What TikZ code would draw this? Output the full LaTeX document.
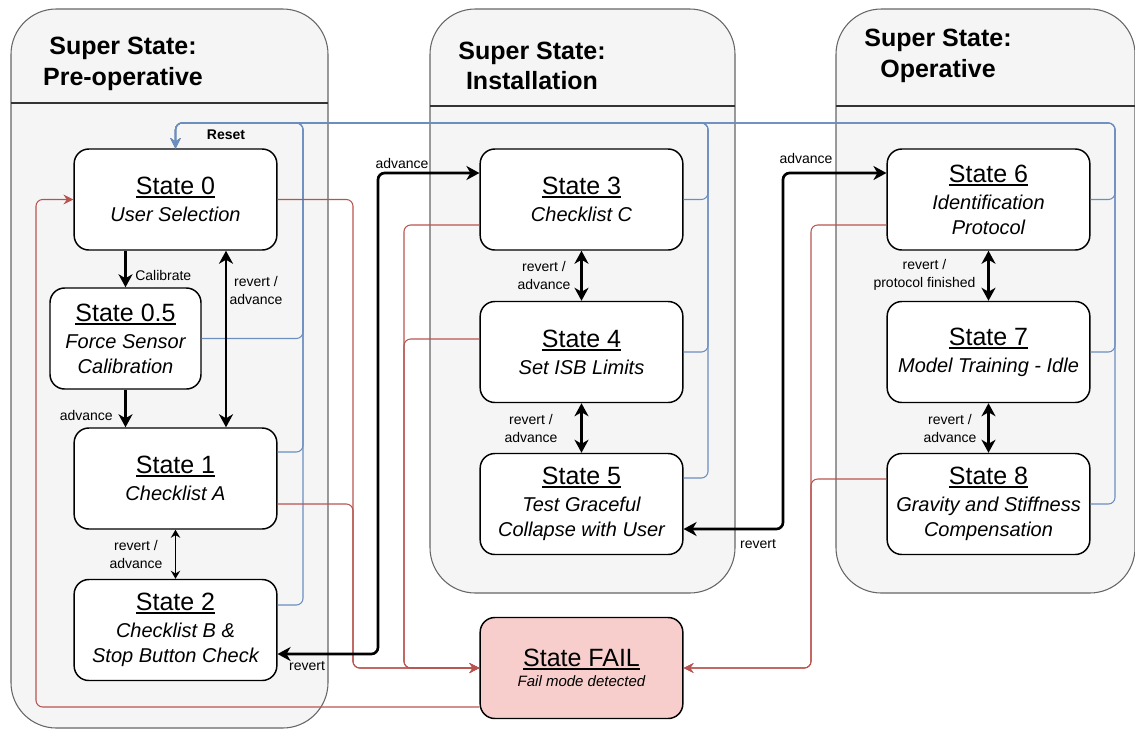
\documentclass[tikz,border=0pt]{standalone}
\usepackage{fontspec}
\setmainfont{Liberation Sans}
\usepackage{tikz}
\usepackage{xcolor}
\usetikzlibrary{arrows.meta,calc}

\definecolor{superfill}{RGB}{245,245,245}
\definecolor{superline}{RGB}{102,102,102}
\definecolor{failline}{RGB}{184,84,80}
\definecolor{failfill}{RGB}{248,206,204}
\definecolor{resetline}{RGB}{108,142,191}

\newcommand{\stname}[1]{{\fontsize{18.75}{22}\selectfont\upshape\setbox0\hbox{#1}\rlap{\rule[-2.6pt]{\wd0}{1.3pt}}\box0}}

\tikzset{
  superbox/.style={draw=superline, fill=superfill, line width=0.8pt, rounded corners=34pt},
  superrule/.style={draw=black!80, line width=1pt},
  supertitle/.style={font=\fontsize{18.75}{23}\selectfont\bfseries, align=center, inner sep=0.75pt},
  statebox/.style={draw=black, fill=white, line width=1.1pt, rounded corners=11pt, minimum width=152pt, minimum height=75.75pt, inner sep=0pt, align=center, font=\fontsize{15}{18.75}\selectfont\itshape},
  failbox/.style={statebox, fill=failfill, font=\fontsize{11.25}{14}\selectfont\itshape},
  edgelabel/.style={font=\fontsize{10.5}{13.5}\selectfont, inner sep=0.75pt, align=center},
  bigflow/.style={line width=2pt, rounded corners=5pt, -{Stealth[length=9.75pt,width=10.5pt,inset=3pt]}},
  bigboth/.style={line width=2pt, rounded corners=5pt, {Stealth[length=9.75pt,width=10.5pt,inset=3pt]}-{Stealth[length=9.75pt,width=10.5pt,inset=3pt]}},
  smallboth/.style={line width=1.1pt, {Stealth[length=6pt,width=7pt,inset=2pt]}-{Stealth[length=6pt,width=7pt,inset=2pt]}},
  faillink/.style={draw=failline, line width=0.8pt, rounded corners=5pt, -{Stealth[length=7.5pt,width=7.5pt,inset=2.5pt]}},
  resetlink/.style={draw=resetline, line width=0.8pt, rounded corners=5pt, -{Stealth[length=7.5pt,width=7.5pt,inset=2.5pt]}},
}

\begin{document}
\begin{tikzpicture}[x=0.75pt,y=0.75pt,yscale=-1,xscale=1]
\useasboundingbox (0,0) rectangle (1135,729);

%Super state boxes
\draw[superbox] (11,9) rectangle (328,728);
\draw[superrule] (11,103) -- (328,103);
\draw[superbox] (430,9) rectangle (735,593);
\draw[superrule] (430,106) -- (735,106);
\draw[superbox] (836,9) rectangle (1135,593);
\draw[superrule] (836,106) -- (1135,106);

% Text Node
\node[supertitle] (ttlpre) at (123,64) {Super State:\\Pre-operative};
\node[supertitle] (ttlinst) at (532,66) {Super State:\\Installation};
\node[supertitle] (ttlop) at (938,56) {Super State:\\Operative};

%States
\node[statebox] (s0) at (175.5,199.5) {\stname{State 0}\\[1.5pt]User Selection};
\node[statebox, minimum width=113.25pt] (s05) at (125.5,338.5) {\stname{State 0.5}\\[1.5pt]Force Sensor\\Calibration};
\node[statebox] (s1) at (175.5,478.5) {\stname{State 1}\\[1.5pt]Checklist A};
\node[statebox] (s2) at (175.5,630) {\stname{State 2}\\[1.5pt]Checklist B \&\\Stop Button Check};
\node[statebox] (s3) at (581.5,199.5) {\stname{State 3}\\[1.5pt]Checklist C};
\node[statebox] (s4) at (581.5,352) {\stname{State 4}\\[1.5pt]Set ISB Limits};
\node[statebox] (s5) at (581.5,504) {\stname{State 5}\\[1.5pt]Test Graceful\\Collapse with User};
\node[statebox] (s6) at (988.5,199.5) {\stname{State 6}\\[1.5pt]Identification\\Protocol};
\node[statebox] (s7) at (988.5,352) {\stname{State 7}\\[1.5pt]Model Training - Idle};
\node[statebox] (s8) at (988.5,504) {\stname{State 8}\\[1.5pt]Gravity and Stiffness\\Compensation};
\node[failbox] (fail) at (581.5,668) {\stname{State FAIL}\\[1pt]Fail mode detected};

%Bends
\coordinate (bendL) at (378,173);
\coordinate (bendR) at (783,173);
\coordinate (redA) at (353,668);
\coordinate (redB) at (404,668);
\coordinate (redC) at (811,668);
\coordinate (redD) at (36,199.5);
\coordinate (blueA) at (303,123);
\coordinate (blueB) at (708,123);
\coordinate (blueC) at (1115,123);

%Reset lines
\draw[resetlink] (s05.east) -| (blueA) -| (s0.north);
\draw[resetlink] ($(s1.east)+(0,-26.5)$) -| (blueA) -| (s0.north);
\draw[resetlink] ($(s2.east)+(0,-25)$) -| (blueA) -| (s0.north);
\draw[resetlink] (s3.east) -| (blueB) -| (s0.north);
\draw[resetlink] (s4.east) -| (blueB) -| (s0.north);
\draw[resetlink] ($(s5.east)+(0,-26)$) -| (blueB) -| (s0.north);
\draw[resetlink] (s6.east) -| (blueC) -| (s0.north);
\draw[resetlink] (s7.east) -| (blueC) -| (s0.north);
\draw[resetlink] (s8.east) -| (blueC) -| (s0.north);

%Fail lines
\draw[faillink] (s0.east) -| (redA) -- (fail.west);
\draw[faillink] ($(s1.east)+(0,25.5)$) -| (redA) -- (fail.west);
\draw[faillink] ($(s3.west)+(0,25.5)$) -| (redB) -- (fail.west);
\draw[faillink] ($(s4.west)+(0,-13)$) -| (redB) -- (fail.west);
\draw[faillink] ($(s6.west)+(0,25.5)$) -| (redC) -- (fail.east);
\draw[faillink] ($(s8.west)+(0,-25)$) -| (redC) -- (fail.east);
\draw[faillink] ($(fail.west)+(0,39)$) -| (redD) -- (s0.west);

%Flow arrows
\draw[bigflow] (s0.south -| s05.north) -- (s05.north);
\draw[bigflow] (s05.south) -- (s1.north -| s05.south);
\draw[bigboth] ($(s0.south)+(50.5,0)$) -- ($(s1.north)+(50.5,0)$);
\draw[smallboth] (s1.south) -- (s2.north);
\draw[bigboth] (s3.south) -- (s4.north);
\draw[bigboth] (s4.south) -- (s5.north);
\draw[bigboth] (s6.south) -- (s7.north);
\draw[bigboth] (s7.south) -- (s8.north);
\draw[bigboth] ($(s2.east)+(0,24)$) -| (bendL) -- ($(s3.west)+(0,-26.5)$);
\draw[bigboth] ($(s5.east)+(0,25)$) -| (bendR) -- ($(s6.west)+(0,-26.5)$);

% Text Node
\node[edgelabel, anchor=west] (lcal) at (134,275) {Calibrate};
\node[edgelabel, anchor=east] (ladv05) at (114,415) {advance};
\node[edgelabel] (lra01) at (256,290) {revert /\\advance};
\node[edgelabel] (lra12) at (136,554) {revert /\\advance};
\node[edgelabel] (lra34) at (544,275) {revert /\\advance};
\node[edgelabel] (lra45) at (531,428) {revert /\\advance};
\node[edgelabel] (lra67) at (924.5,275) {revert /\\protocol finished};
\node[edgelabel] (lra78) at (950,428) {revert /\\advance};
\node[edgelabel, font=\fontsize{10.5}{13.5}\selectfont\bfseries] (lreset) at (226,135) {Reset};
\node[edgelabel] (ladvL) at (402,163) {advance};
\node[edgelabel] (lrevL) at (307,666) {revert};
\node[edgelabel] (ladvR) at (806,158) {advance};
\node[edgelabel] (lrevR) at (758,544) {revert};

\end{tikzpicture}
\end{document}
